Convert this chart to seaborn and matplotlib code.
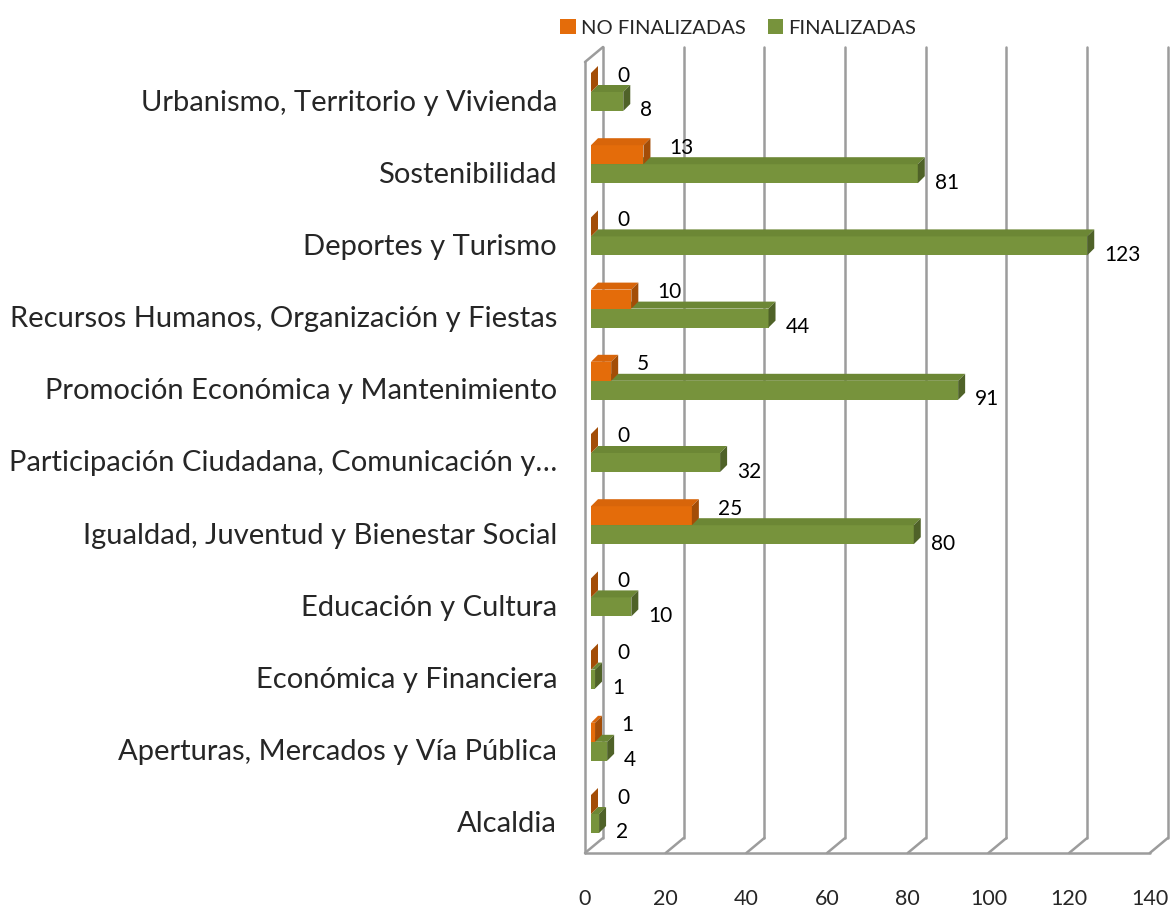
import matplotlib
matplotlib.use("Agg")
import matplotlib.pyplot as plt
import matplotlib.transforms as mtransforms
import pandas as pd
import seaborn as sns
from matplotlib.patches import Patch, Polygon


CATEGORIES = [
    "Urbanismo, Territorio y Vivienda",
    "Sostenibilidad",
    "Deportes y Turismo",
    "Recursos Humanos, Organización y Fiestas",
    "Promoción Económica y Mantenimiento",
    "Participación Ciudadana, Comunicación y…",
    "Igualdad, Juventud y Bienestar Social",
    "Educación y Cultura",
    "Económica y Financiera",
    "Aperturas, Mercados y Vía Pública",
    "Alcaldia",
]
NO_FINALIZADAS = [0, 13, 0, 10, 5, 0, 25, 0, 0, 1, 0]
FINALIZADAS = [8, 81, 123, 44, 91, 32, 80, 10, 1, 4, 2]
SERIES = ["NO FINALIZADAS", "FINALIZADAS"]
X_TICKS = [0, 20, 40, 60, 80, 100, 120, 140]

FRONT = {"NO FINALIZADAS": "#E46C0A", "FINALIZADAS": "#77933C"}
TOP = {"NO FINALIZADAS": "#D8650A", "FINALIZADAS": "#6C8735"}
SIDE = {"NO FINALIZADAS": "#A34D07", "FINALIZADAS": "#4F6228"}
GRID = "#9C9C9C"

# layout, in pixels from the top-left corner
DPI = 100
W, H = 1170, 911
AX_LEFT, AX_RIGHT = 585, 1170
AX_TOP, AX_BOTTOM = 40, 853
WALL_TOP = 62
X_MAX = 145
LABEL_Y0, LABEL_STEP = 100, 72.2
WALL_DX, WALL_DY = 18, 15
BAR_DX, BAR_DY = 6, 8
DEPTH = 7
BAR_PX = 19


def px2pt(px):
    return px * 72.0 / DPI


df = pd.DataFrame(
    {
        "area": CATEGORIES * 2,
        "estado": [SERIES[0]] * len(CATEGORIES) + [SERIES[1]] * len(CATEGORIES),
        "valor": NO_FINALIZADAS + FINALIZADAS,
    }
)

sns.set_style("white")
plt.rcParams["font.family"] = ["Lato", "DejaVu Sans"]

fig = plt.figure(figsize=(W / DPI, H / DPI), dpi=DPI)
ax = fig.add_axes(
    [AX_LEFT / W, 1 - AX_BOTTOM / H, (AX_RIGHT - AX_LEFT) / W, (AX_BOTTOM - AX_TOP) / H]
)
sns.barplot(
    data=df,
    y="area",
    x="valor",
    hue="estado",
    hue_order=SERIES,
    order=CATEGORIES,
    palette=FRONT,
    width=2 * BAR_PX / LABEL_STEP,
    saturation=1,
    linewidth=0,
    legend=False,
    ax=ax,
)

y_floor = (AX_BOTTOM - LABEL_Y0) / LABEL_STEP
y_top_ax = (AX_TOP - LABEL_Y0) / LABEL_STEP
ax.set_xlim(0, X_MAX)
ax.set_ylim(y_floor, y_top_ax)

sx = (AX_RIGHT - AX_LEFT) / X_MAX
sy = LABEL_STEP

# 3D box: floor, back gridlines, left wall
y_top = (WALL_TOP - LABEL_Y0) / LABEL_STEP
dxw, dyw = WALL_DX / sx, WALL_DY / sy
line_kw = dict(color=GRID, lw=1.8, clip_on=False, zorder=1)
ax.plot([0, X_TICKS[-1]], [y_floor, y_floor], **line_kw)
for v in X_TICKS:
    ax.plot([v, v + dxw], [y_floor, y_floor - dyw], **line_kw)
    ax.plot([v + dxw, v + dxw], [y_floor - dyw, y_top - dyw], **line_kw)
ax.plot([0, 0], [y_floor, y_top], **line_kw)
ax.plot([0, dxw], [y_top, y_top - dyw], **line_kw)

# bars shifted into their own depth plane, with top and side faces
bar_tr = ax.transData + mtransforms.ScaledTranslation(
    BAR_DX / DPI, BAR_DY / DPI, fig.dpi_scale_trans
)
ddx, ddy = DEPTH / sx, DEPTH / sy
for z, (name, cont, vals) in enumerate(
    zip(SERIES, ax.containers, [NO_FINALIZADAS, FINALIZADAS])
):
    zo = 4 - z
    for p, val in zip(cont.patches, vals):
        x0, y0, w, h = p.get_x(), p.get_y(), p.get_width(), p.get_height()
        p.set_transform(bar_tr)
        p.set_zorder(zo)
        top = Polygon(
            [(x0, y0), (x0 + w, y0), (x0 + w + ddx, y0 - ddy), (x0 + ddx, y0 - ddy)],
            closed=True, facecolor=TOP[name], edgecolor="none",
            transform=bar_tr, zorder=zo,
        )
        side = Polygon(
            [(x0 + w, y0), (x0 + w, y0 + h), (x0 + w + ddx, y0 + h - ddy),
             (x0 + w + ddx, y0 - ddy)],
            closed=True, facecolor=SIDE[name], edgecolor="none",
            transform=bar_tr, zorder=zo,
        )
        ax.add_patch(top)
        ax.add_patch(side)
        if name == SERIES[0]:
            off = (px2pt(26), px2pt(7))
        else:
            off = (px2pt(17), px2pt(-9))
        ax.annotate(
            f"{val:g}", xy=(x0 + w, y0 + h / 2), xycoords=bar_tr,
            xytext=off, textcoords="offset points",
            ha="left", va="center", fontsize=15, color="black", zorder=6,
        )

for s in ax.spines.values():
    s.set_visible(False)
ax.set_xlabel("")
ax.set_ylabel("")
ax.set_xticks(X_TICKS)
ax.set_xticklabels([str(v) for v in X_TICKS], fontsize=15.5)
ax.tick_params(axis="x", length=0, pad=px2pt(36))
ax.tick_params(axis="y", length=0, pad=px2pt(28), labelsize=21)

handles = [Patch(facecolor=FRONT[s], edgecolor="none", label=s) for s in SERIES]
fig.legend(
    handles=handles, loc="center", bbox_to_anchor=(738 / W, 1 - 28 / H),
    ncol=2, frameon=False, fontsize=14.5, handlelength=0.75, handleheight=0.75,
    handletextpad=0.25, columnspacing=1.1,
)

fig.savefig("out.png", dpi=DPI)
